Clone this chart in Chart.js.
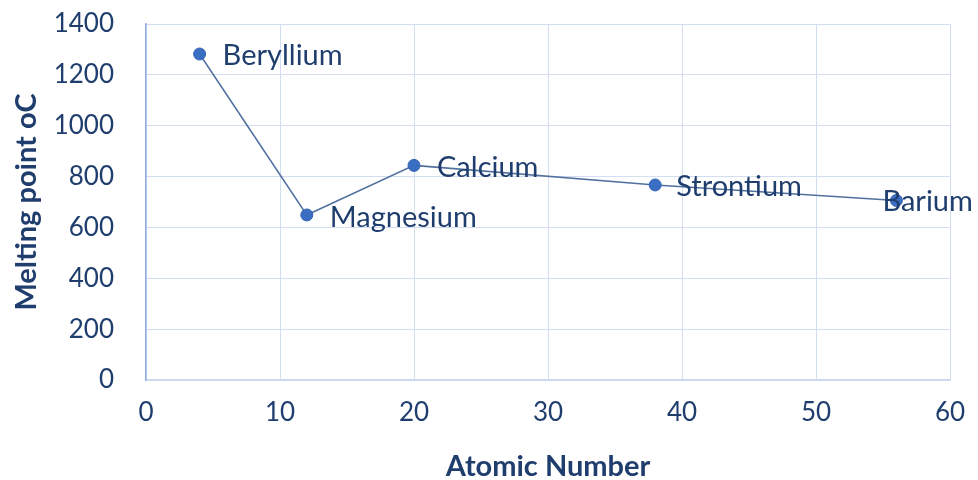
<!DOCTYPE html>
<html>
<head>
<meta charset="utf-8">
<script src="https://cdn.jsdelivr.net/npm/chart.js@4/dist/chart.umd.min.js"></script>
<style>
  html, body { margin: 0; padding: 0; background: #ffffff; }
  #wrap { width: 978px; height: 480px; position: relative; }
</style>
</head>
<body>
<div id="wrap"><canvas id="chart" width="978" height="480"></canvas></div>
<script>
// Alkaline earth metals: atomic number vs melting point
const elements = ['Beryllium', 'Magnesium', 'Calcium', 'Strontium', 'Barium'];
const atomicNumbers = [4, 12, 20, 38, 56];
const meltingPoints = [1282, 649, 844, 767, 706];
const xTicks = [0, 10, 20, 30, 40, 50, 60];
const yTicks = [0, 200, 400, 600, 800, 1000, 1200, 1400];

const TEXT = '#1f3e6e';
const GRID = '#d3def0';
const FONT = 'Lato, "Open Sans", sans-serif';

// Name label placement relative to each point (pixels)
const labelOffsets = [[23, 2], [23, 3], [23, 2], [21, 2], [-14, 1]];

const points = atomicNumbers.map((x, i) => ({ x: x, y: meltingPoints[i] }));

const pointLabels = {
  id: 'pointLabels',
  afterDatasetsDraw(chart) {
    const ctx = chart.ctx;
    const meta = chart.getDatasetMeta(0);
    ctx.save();
    ctx.font = '29px ' + FONT;
    ctx.fillStyle = TEXT;
    ctx.textBaseline = 'middle';
    ctx.textAlign = 'left';
    meta.data.forEach((pt, i) => {
      const [dx, dy] = labelOffsets[i];
      ctx.fillText(elements[i], pt.x + dx, pt.y + dy);
    });
    ctx.restore();
  }
};

new Chart(document.getElementById('chart'), {
  type: 'scatter',
  data: {
    datasets: [{
      data: points,
      showLine: true,
      borderColor: '#51709d',
      borderWidth: 1.5,
      pointRadius: 6,
      pointHoverRadius: 6,
      pointBackgroundColor: '#3a6ec2',
      pointBorderColor: '#3464b3',
      pointBorderWidth: 1
    }]
  },
  options: {
    responsive: false,
    animation: false,
    layout: { padding: { left: 0, top: 24, right: 28, bottom: 0 } },
    plugins: {
      legend: { display: false },
      tooltip: { enabled: false }
    },
    scales: {
      x: {
        type: 'linear',
        min: 0, max: 60,
        afterBuildTicks: s => { s.ticks = xTicks.map(v => ({ value: v })); },
        afterFit: s => { s.height = 100; },
        grid: { color: GRID, lineWidth: 1, drawTicks: true, tickLength: 13, tickColor: 'rgba(0,0,0,0)' },
        border: { color: '#c9d8ee', width: 1.5 },
        ticks: { color: TEXT, font: { family: FONT, size: 26 }, padding: 4, callback: v => String(v) },
        title: {
          display: true, text: 'Atomic Number', color: TEXT,
          font: { family: FONT, size: 29, weight: 'bold' },
          padding: { top: 0, bottom: -4 }
        }
      },
      y: {
        type: 'linear',
        min: 0, max: 1400,
        afterBuildTicks: s => { s.ticks = yTicks.map(v => ({ value: v })); },
        afterFit: s => { s.width = 146; },
        grid: { color: GRID, lineWidth: 1, drawTicks: true, tickLength: 29, tickColor: 'rgba(0,0,0,0)' },
        border: { color: '#8fb0de', width: 1.5 },
        ticks: { color: TEXT, font: { family: FONT, size: 26 }, padding: 3, callback: v => String(v) },
        title: {
          display: true, text: 'Melting point oC', color: TEXT,
          font: { family: FONT, size: 29, weight: 'bold' },
          padding: { top: 9, bottom: 0 }
        }
      }
    }
  },
  plugins: [pointLabels]
});
</script>
</body>
</html>
